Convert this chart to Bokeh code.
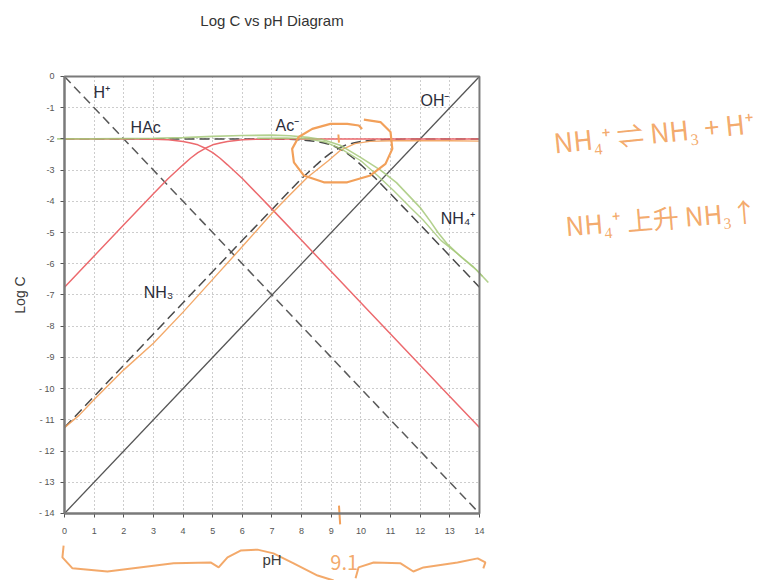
from bokeh.plotting import figure
from bokeh.models import (Range1d, FixedTicker, Label, LinearAxis, Grid, BoxAnnotation)
from bokeh.embed import file_html
from bokeh.resources import INLINE

# ---------------- data ----------------
x_ticks = [0, 1, 2, 3, 4, 5, 6, 7, 8, 9, 10, 11, 12, 13, 14]
y_ticks = [0, -1, -2, -3, -4, -5, -6, -7, -8, -9, -10, -11, -12, -13, -14]
y_tick_labels = ["0", "-1", "-2", "-3", "-4", "-5", "-6", "-7", "-8", "-9",
                 "- 10", "- 11", "- 12", "- 13", "- 14"]

ph_ends = [0, 14]
h_plus = [0, -14]
oh_minus = [-14, 0]

ph_ac = [0, 1, 2, 3, 3.5, 4, 4.25, 4.5, 4.75, 5, 5.25, 5.5, 6, 6.5, 7, 8, 9, 10, 11, 12, 13, 14]
hac = [-2.0, -2.0, -2.0, -2.01, -2.03, -2.08, -2.13, -2.19, -2.3, -2.44, -2.62, -2.83,
       -3.27, -3.76, -4.25, -5.25, -6.25, -7.25, -8.25, -9.25, -10.25, -11.25]
ac = [-6.75, -5.75, -4.75, -3.76, -3.27, -2.83, -2.62, -2.44, -2.3, -2.19, -2.13, -2.08,
      -2.03, -2.01, -2.0, -2.0, -2.0, -2.0, -2.0, -2.0, -2.0, -2.0]

ph_nh = [0, 1, 2, 3, 4, 5, 6, 7, 7.5, 8, 8.5, 8.75, 9, 9.25, 9.5, 9.75, 10, 10.5, 11, 12, 13, 14]
nh4 = [-2.0, -2.0, -2.0, -2.0, -2.0, -2.0, -2.0, -2.0, -2.01, -2.03, -2.08, -2.13, -2.19,
       -2.3, -2.44, -2.62, -2.83, -3.27, -3.76, -4.75, -5.75, -6.75]
nh3 = [-11.25, -10.25, -9.25, -8.25, -7.25, -6.25, -5.25, -4.26, -3.76, -3.27, -2.83, -2.62,
       -2.44, -2.3, -2.19, -2.13, -2.08, -2.03, -2.01, -2.0, -2.0, -2.0]

# hand-drawn green strokes
ph_g1 = [-0.25, 1, 2, 3, 4, 5, 6, 7, 7.6, 8.2, 8.7, 9.3, 10.0, 10.66, 11.2, 11.6, 12.0,
         12.35, 12.6, 12.9, 13.4, 13.9, 14.3]
g1 = [-2.0, -2.0, -1.99, -1.98, -1.96, -1.92, -1.89, -1.88, -1.9, -1.95, -2.02, -2.2,
      -2.6, -3.0, -3.4, -3.8, -4.2, -4.65, -5.0, -5.35, -5.8, -6.2, -6.6]
ph_g2 = [6.5, 7.5, 8.2, 8.8, 9.3, 10.0, 10.56, 11.1, 11.67, 12.1, 12.7, 13.25, 13.8, 14.1]
g2 = [-1.98, -1.97, -2.0, -2.1, -2.3, -2.7, -3.17, -3.65, -4.2, -4.6, -5.25, -5.67, -6.1, -6.4]

# hand-drawn orange stroke along NH3
ph_o = [0, 0.5, 1, 2, 3, 4, 5, 6, 7, 7.6, 8.2, 8.9, 9.3, 9.8, 10.3, 11, 12, 13, 14]
o_line = [-11.25, -10.85, -10.35, -9.4, -8.55, -7.55, -6.5, -5.45, -4.38, -3.8, -3.23,
          -2.7, -2.37, -2.15, -2.08, -2.06, -2.06, -2.06, -2.07]

# hand-drawn orange loop and marks
loop_x = [10.10, 10.66, 11.00, 11.06, 10.83, 10.32, 9.54, 8.75, 8.07, 7.74, 7.68, 7.90,
          8.36, 8.97, 9.54, 9.93, 10.04]
loop_y = [-1.38, -1.46, -1.78, -2.32, -2.80, -3.17, -3.39, -3.39, -3.17, -2.75, -2.32,
          -1.94, -1.68, -1.52, -1.52, -1.57, -1.68]
mark_x = [9.24, 9.26]
mark_y = [-1.86, -2.12]
axis_mark_x = [9.26, 9.3]
axis_mark_y = [-13.75, -14.35]

# hand-drawn braces below the axis
brace1_x = [-0.03, -0.07, 0.27, 1.45, 3.68, 4.93, 5.2, 5.5, 5.94, 6.51, 7.05, 7.73, 8.54, 9.08]
brace1_y = [-15.03, -15.41, -15.76, -15.86, -15.6, -15.57, -15.73, -15.41, -15.19, -15.16,
            -15.28, -15.6, -15.99, -16.15]
brace2_x = [9.82, 9.92, 10.43, 11.34, 11.77, 12.11, 13.26, 13.94, 14.2, 14.13]
brace2_y = [-16.08, -15.73, -15.57, -15.6, -15.86, -15.73, -15.57, -15.44, -15.57, -15.76]

# ---------------- styling ----------------
ORANGE = "#f2a05a"
GREEN = "#a6c97a"
RED = "#ec6a6e"
TXT = "#2b2d3a"
FONT = "Liberation Sans"
FRAME = "#7a7a7a"

p = figure(width=758, height=580,
           x_range=Range1d(-2.159, 23.414), y_range=Range1d(-16.149, 2.435),
           output_backend="svg", toolbar_location=None, title=None,
           x_axis_type=None, y_axis_type=None, min_border=0)
p.outline_line_color = None
p.background_fill_color = "white"
p.border_fill_color = "white"

xaxis = LinearAxis(fixed_location=-14, bounds=(0, 14), ticker=FixedTicker(ticks=x_ticks))
yaxis = LinearAxis(fixed_location=0, bounds=(-14, 0), ticker=FixedTicker(ticks=y_ticks))
yaxis.major_label_overrides = {t: s for t, s in zip(y_ticks, y_tick_labels)}
for ax in (xaxis, yaxis):
    ax.axis_line_color = FRAME
    ax.axis_line_width = 2
    ax.major_tick_line_color = "#555555"
    ax.major_tick_out = 4
    ax.major_tick_in = 0
    ax.minor_tick_line_color = None
    ax.major_label_text_font = FONT
    ax.major_label_text_font_size = "9px"
    ax.major_label_text_color = "#555555"
    ax.axis_label_text_font = FONT
    ax.axis_label_text_font_style = "normal"
    ax.axis_label_text_color = "#3a3a3a"
xaxis.axis_label = "pH"
xaxis.axis_label_text_font_size = "15px"
xaxis.major_label_standoff = 11
xaxis.axis_label_standoff = 13
yaxis.axis_label = "Log C"
yaxis.axis_label_text_font_size = "14px"
yaxis.major_label_standoff = 6
yaxis.axis_label_standoff = 8
p.add_layout(xaxis, "below")
p.add_layout(yaxis, "left")

for dim, tk, cb in ((0, x_ticks, (-14, 0)), (1, y_ticks, (0, 14))):
    p.add_layout(Grid(dimension=dim, ticker=FixedTicker(ticks=tk), cross_bounds=cb,
                      grid_line_color="#9a9a9a", grid_line_dash="1 3", grid_line_width=1))

p.add_layout(BoxAnnotation(left=0, right=14, bottom=-14, top=0, fill_alpha=0,
                           line_color=FRAME, line_width=2, line_alpha=1))

# lines
p.line(ph_ends, oh_minus, line_color="#555555", line_width=1.3)
p.line(ph_ends, h_plus, line_color="#5a5a5a", line_width=1.5, line_dash="9 5")
p.line(ph_nh, nh4, line_color="#4a4a4a", line_width=1.5, line_dash="10 5")
p.line(ph_nh, nh3, line_color="#4a4a4a", line_width=1.5, line_dash="10 5")
p.line(ph_ac, hac, line_color=RED, line_width=1.5)
p.line(ph_ac, ac, line_color=RED, line_width=1.5)
p.line(ph_o, o_line, line_color=ORANGE, line_width=1.4, line_alpha=0.9)
p.line(ph_g1, g1, line_color=GREEN, line_width=1.6, line_alpha=0.85)
p.line(ph_g2, g2, line_color=GREEN, line_width=1.4, line_alpha=0.85)
p.line(loop_x, loop_y, line_color=ORANGE, line_width=2.2)
p.line(mark_x, mark_y, line_color=ORANGE, line_width=2)
p.line(axis_mark_x, axis_mark_y, line_color=ORANGE, line_width=2)
p.line(brace1_x, brace1_y, line_color=ORANGE, line_width=2, line_alpha=0.9)
p.line(brace2_x, brace2_y, line_color=ORANGE, line_width=2, line_alpha=0.9)

# species labels
def lab(x, y, t, size="16px"):
    p.add_layout(Label(x=x, y=y, text=t, text_font=FONT, text_font_size=size,
                       text_color=TXT, text_baseline="middle"))

lab(0.98, -0.51, "H⁺")
lab(2.23, -1.63, "HAc")
lab(7.12, -1.57, "Ac⁻")
lab(12.01, -0.77, "OH⁻")
lab(12.69, -4.55, "NH₄⁺")
lab(2.67, -6.92, "NH₃")

# title
p.add_layout(Label(x=7, y=1.79, text="Log C vs pH Diagram", text_font=FONT,
                   text_font_size="15px", text_color="#333333", text_align="center",
                   text_baseline="middle"))

# handwriting
def hand(x, y, t, size="27px", angle=0.0):
    p.add_layout(Label(x=x, y=y, text=t, text_font="Noto Sans CJK SC",
                       text_font_size=size, text_color=ORANGE, angle=angle,
                       text_alpha=0.9, text_baseline="alphabetic"))

hand(16.5, -2.1, "NH₄⁺  ⇌  NH₃ + H⁺", angle=0.1)
hand(16.9, -4.75, "NH₄⁺  上升  NH₃↑", size="26px", angle=0.08)
hand(8.97, -15.57, "9.1", size="20px")

open("out.html", "w").write(file_html(p, INLINE))
